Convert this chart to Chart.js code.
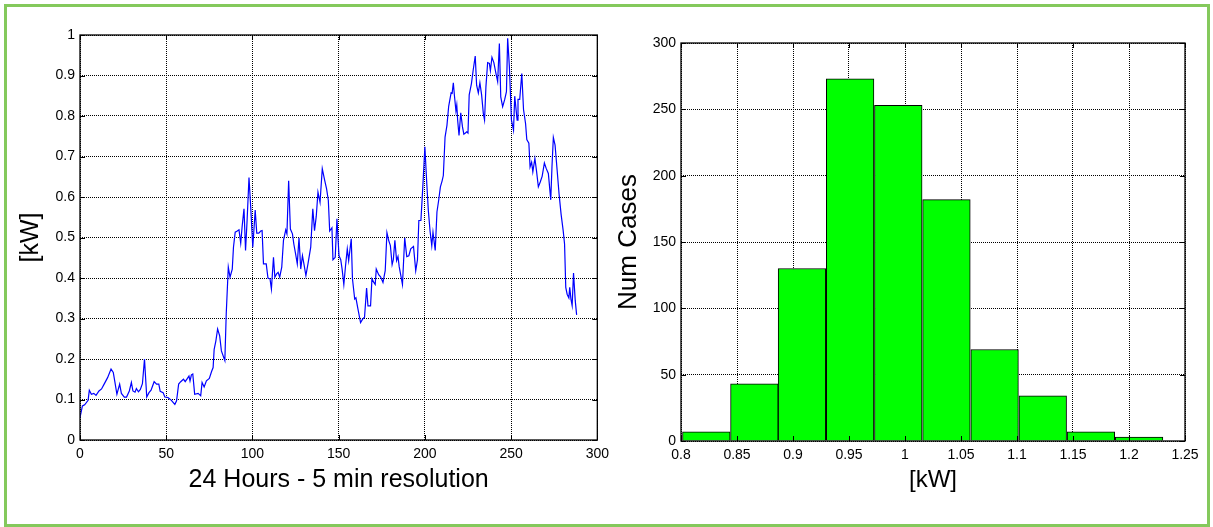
<!DOCTYPE html>
<html>
<head>
<meta charset="utf-8">
<script src="https://cdn.jsdelivr.net/npm/chart.js@4.4.1/dist/chart.umd.min.js"></script>
<style>
  body { margin: 0; background: #fff; }
  #marco { position: absolute; left: 4px; top: 4px; width: 1200px; height: 517px; border: 3px solid #84c95c; }
  canvas { position: absolute; top: 0; }
</style>
</head>
<body>
<div id="marco"></div>
<canvas id="grafico-carga" width="615" height="500" style="left:0"></canvas>
<canvas id="grafico-histograma" width="603" height="500" style="left:610px"></canvas>
<script>
// serie de 24 horas (muestras de 5 min)
const muestras = [0, 1.4, 2.7, 4.7, 5.4, 6.6, 8, 9.3, 11, 12.5, 14, 16, 18, 19.3, 20.2, 21.4, 23, 24, 25.7, 27,
  28.6, 29.8, 30.7, 31.9, 32.7, 33.9, 35, 36.2, 37.4, 38.7, 40, 41.2, 43, 44.4, 45.7, 46.5, 48.2, 49.2, 51, 53,
  55, 56, 57.2, 58.4, 60, 61, 62.3, 63.2, 63.8, 64.6, 65.4, 66.5, 68.5, 70, 70.8, 72, 73.3, 75, 76.3, 77.2,
  77.8, 78.8, 79.8, 81, 82, 84, 84.8, 86, 87, 88.3, 89, 90, 91.2, 92.2, 93.2, 94, 95.1, 96, 96.9, 98,
  99, 100.2, 101.6, 102.5, 103.7, 104.8, 105.6, 106.4, 108, 109, 110.2, 111, 112.2, 113, 114, 114.9, 115.8, 117, 118, 119.3,
  120, 121, 122, 123.2, 124, 125, 126, 127, 128, 129, 130, 131, 132.2, 133.8, 135, 136, 137, 138, 139.2, 140.5,
  141.9, 143, 144, 144.8, 146.1, 146.7, 148, 149, 150.2, 151.2, 152, 153, 154, 155, 155.8, 157.3, 158, 159.3, 160, 161.2,
  162.7, 164, 165, 166.2, 167, 168.5, 169.3, 170.4, 171.2, 171.8, 173.2, 174.3, 175.7, 177, 178, 179, 180, 181, 181.7, 182.6,
  183.6, 184.4, 185.1, 187, 188.3, 189.5, 190.7, 191.8, 193.4, 194.7, 195.7, 196.5, 197.7, 198.8, 200, 201, 202, 203, 204, 204.7,
  206, 207, 208, 209, 210, 210.7, 211.7, 212.8, 213.8, 215.2, 215.8, 216.5, 217.1, 218, 218.5, 219, 219.8, 220.8, 221.8, 222.6,
  223.5, 224.3, 225, 225.7, 227, 228, 229.2, 230, 231, 231.9, 232.9, 233.9, 234.6, 235.4, 236.4, 237.4, 238, 238.9, 240, 241.2,
  242.2, 243.2, 244, 245.1, 246.3, 247.3, 248, 249, 250.2, 251.4, 252.1, 253.5, 254, 255, 256.2, 257.2, 258.4, 259.1, 260.3, 261,
  261.9, 262.6, 263.8, 264.8, 265.8, 266.9, 268, 269.3, 270.4, 271.6, 273, 273.7, 274.5, 275.5, 276.7, 277.8, 279, 280.2, 281, 281.7,
  282.5, 283.5, 284, 284.7, 285.4, 286.2, 287.2, 288];
const potencia = [0.055, 0.084, 0.087, 0.098, 0.123, 0.113, 0.115, 0.11, 0.121, 0.126, 0.138, 0.154, 0.175, 0.167, 0.144, 0.113, 0.138, 0.115, 0.106, 0.106,
  0.121, 0.142, 0.121, 0.118, 0.127, 0.119, 0.125, 0.139, 0.2, 0.106, 0.117, 0.123, 0.144, 0.138, 0.138, 0.12, 0.117, 0.106, 0.105, 0.098,
  0.088, 0.097, 0.138, 0.144, 0.15, 0.144, 0.152, 0.158, 0.146, 0.161, 0.163, 0.113, 0.115, 0.109, 0.142, 0.131, 0.146, 0.152, 0.169, 0.179,
  0.224, 0.245, 0.274, 0.257, 0.22, 0.196, 0.311, 0.427, 0.402, 0.422, 0.476, 0.513, 0.516, 0.519, 0.486, 0.526, 0.571, 0.468, 0.542, 0.648,
  0.575, 0.476, 0.568, 0.511, 0.511, 0.516, 0.517, 0.435, 0.435, 0.4, 0.398, 0.373, 0.451, 0.402, 0.41, 0.414, 0.402, 0.427, 0.493, 0.519,
  0.509, 0.64, 0.521, 0.509, 0.484, 0.46, 0.435, 0.499, 0.422, 0.455, 0.431, 0.406, 0.435, 0.476, 0.571, 0.517, 0.552, 0.612, 0.587, 0.67,
  0.641, 0.62, 0.592, 0.516, 0.524, 0.445, 0.451, 0.546, 0.455, 0.445, 0.422, 0.384, 0.431, 0.472, 0.443, 0.497, 0.398, 0.348, 0.351, 0.323,
  0.29, 0.299, 0.303, 0.375, 0.331, 0.331, 0.398, 0.389, 0.384, 0.422, 0.408, 0.403, 0.389, 0.418, 0.512, 0.493, 0.48, 0.433, 0.445, 0.493,
  0.443, 0.453, 0.428, 0.384, 0.499, 0.453, 0.455, 0.472, 0.478, 0.418, 0.445, 0.542, 0.542, 0.625, 0.724, 0.641, 0.567, 0.516, 0.48, 0.513,
  0.468, 0.563, 0.592, 0.625, 0.64, 0.653, 0.748, 0.777, 0.824, 0.857, 0.856, 0.882, 0.852, 0.813, 0.827, 0.79, 0.752, 0.808, 0.773, 0.755,
  0.758, 0.761, 0.758, 0.852, 0.88, 0.913, 0.948, 0.876, 0.857, 0.882, 0.852, 0.806, 0.79, 0.872, 0.932, 0.93, 0.912, 0.945, 0.932, 0.905,
  0.885, 0.979, 0.847, 0.823, 0.841, 0.86, 0.992, 0.922, 0.79, 0.765, 0.849, 0.79, 0.841, 0.841, 0.905, 0.816, 0.781, 0.742, 0.733, 0.674,
  0.686, 0.662, 0.695, 0.662, 0.625, 0.637, 0.651, 0.684, 0.67, 0.658, 0.593, 0.674, 0.747, 0.728, 0.666, 0.608, 0.557, 0.517, 0.484, 0.377,
  0.36, 0.351, 0.377, 0.348, 0.332, 0.412, 0.344, 0.309];

// histograma
const centrosBins = [0.8226, 0.8655, 0.908, 0.951, 0.994, 1.037, 1.080, 1.123, 1.166, 1.209];
const numCasos = [7, 43, 130, 273, 253, 182, 69, 34, 7, 3];

const fuente = "'Liberation Sans', Arial, sans-serif";
Chart.defaults.font.family = fuente;
Chart.defaults.color = '#000';

// caja estilo matlab con marcas hacia dentro
const cajaPlugin = {
  id: 'caja',
  afterDraw(chart) {
    const { ctx, chartArea: a, scales } = chart;
    ctx.save();
    ctx.strokeStyle = '#000';
    ctx.lineWidth = 1.3;
    ctx.strokeRect(a.left, a.top, a.right - a.left, a.bottom - a.top);
    ctx.lineWidth = 1;
    ctx.beginPath();
    scales.x.ticks.forEach(t => {
      const px = Math.round(scales.x.getPixelForValue(t.value)) + 0.5;
      ctx.moveTo(px, a.bottom); ctx.lineTo(px, a.bottom - 5);
      ctx.moveTo(px, a.top); ctx.lineTo(px, a.top + 5);
    });
    scales.y.ticks.forEach(t => {
      const py = Math.round(scales.y.getPixelForValue(t.value)) + 0.5;
      ctx.moveTo(a.left, py); ctx.lineTo(a.left + 5, py);
      ctx.moveTo(a.right, py); ctx.lineTo(a.right - 5, py);
    });
    ctx.stroke();
    ctx.restore();
  }
};

// etiquetas sin ceros de relleno (0.8, 1, 1.25)
const formatoTick = v => String(parseFloat(v.toFixed(3)));

function ejeX(min, max, paso, titulo, tamTitulo, altura) {
  return {
    type: 'linear', min: min, max: max, offset: false,
    grid: { color: '#000', lineWidth: 1, drawTicks: false, offset: false },
    border: { display: false, dash: [1, 1] },
    ticks: { stepSize: paso, padding: 6, font: { size: 14 }, maxRotation: 0, callback: formatoTick },
    title: { display: true, text: titulo, font: { size: tamTitulo }, padding: { top: 0, bottom: 1 } },
    afterFit(scale) { scale.height = altura; }
  };
}

function ejeY(min, max, paso, titulo, tamTitulo, ancho, padTitulo) {
  return {
    min: min, max: max,
    grid: { color: '#000', lineWidth: 1, drawTicks: false },
    border: { display: false, dash: [1, 1] },
    ticks: { stepSize: paso, padding: 5, font: { size: 14 }, callback: formatoTick },
    title: { display: true, text: titulo, font: { size: tamTitulo }, padding: { top: padTitulo, bottom: 0 } },
    afterFit(scale) { scale.width = ancho; }
  };
}

new Chart(document.getElementById('grafico-carga'), {
  type: 'line',
  data: {
    datasets: [{
      data: muestras.map((x, i) => ({ x: x, y: potencia[i] })),
      borderColor: '#0000ff',
      borderWidth: 1.2,
      pointRadius: 0,
      tension: 0
    }]
  },
  options: {
    responsive: false,
    animation: false,
    layout: { padding: { left: 0, top: 35, right: 8, bottom: 4 } },
    plugins: { legend: { display: false }, tooltip: { enabled: false } },
    scales: {
      x: ejeX(0, 300, 50, '24 Hours - 5 min resolution', 25, 56),
      y: ejeY(0, 1, 0.1, '[kW]', 25, 80, 16)
    }
  },
  plugins: [cajaPlugin]
});

new Chart(document.getElementById('grafico-histograma'), {
  type: 'bar',
  data: {
    datasets: [{
      data: centrosBins.map((x, i) => ({ x: x, y: numCasos[i] })),
      backgroundColor: '#00ff00',
      borderColor: '#000',
      borderWidth: 1,
      barPercentage: 1,
      categoryPercentage: 1
    }]
  },
  options: {
    responsive: false,
    animation: false,
    layout: { padding: { left: 0, top: 43, right: 28, bottom: 4 } },
    plugins: { legend: { display: false }, tooltip: { enabled: false } },
    scales: {
      x: ejeX(0.8, 1.25, 0.05, '[kW]', 24, 55),
      y: ejeY(0, 300, 50, 'Num Cases', 26, 71, 3)
    }
  },
  plugins: [cajaPlugin]
});
</script>
</body>
</html>
